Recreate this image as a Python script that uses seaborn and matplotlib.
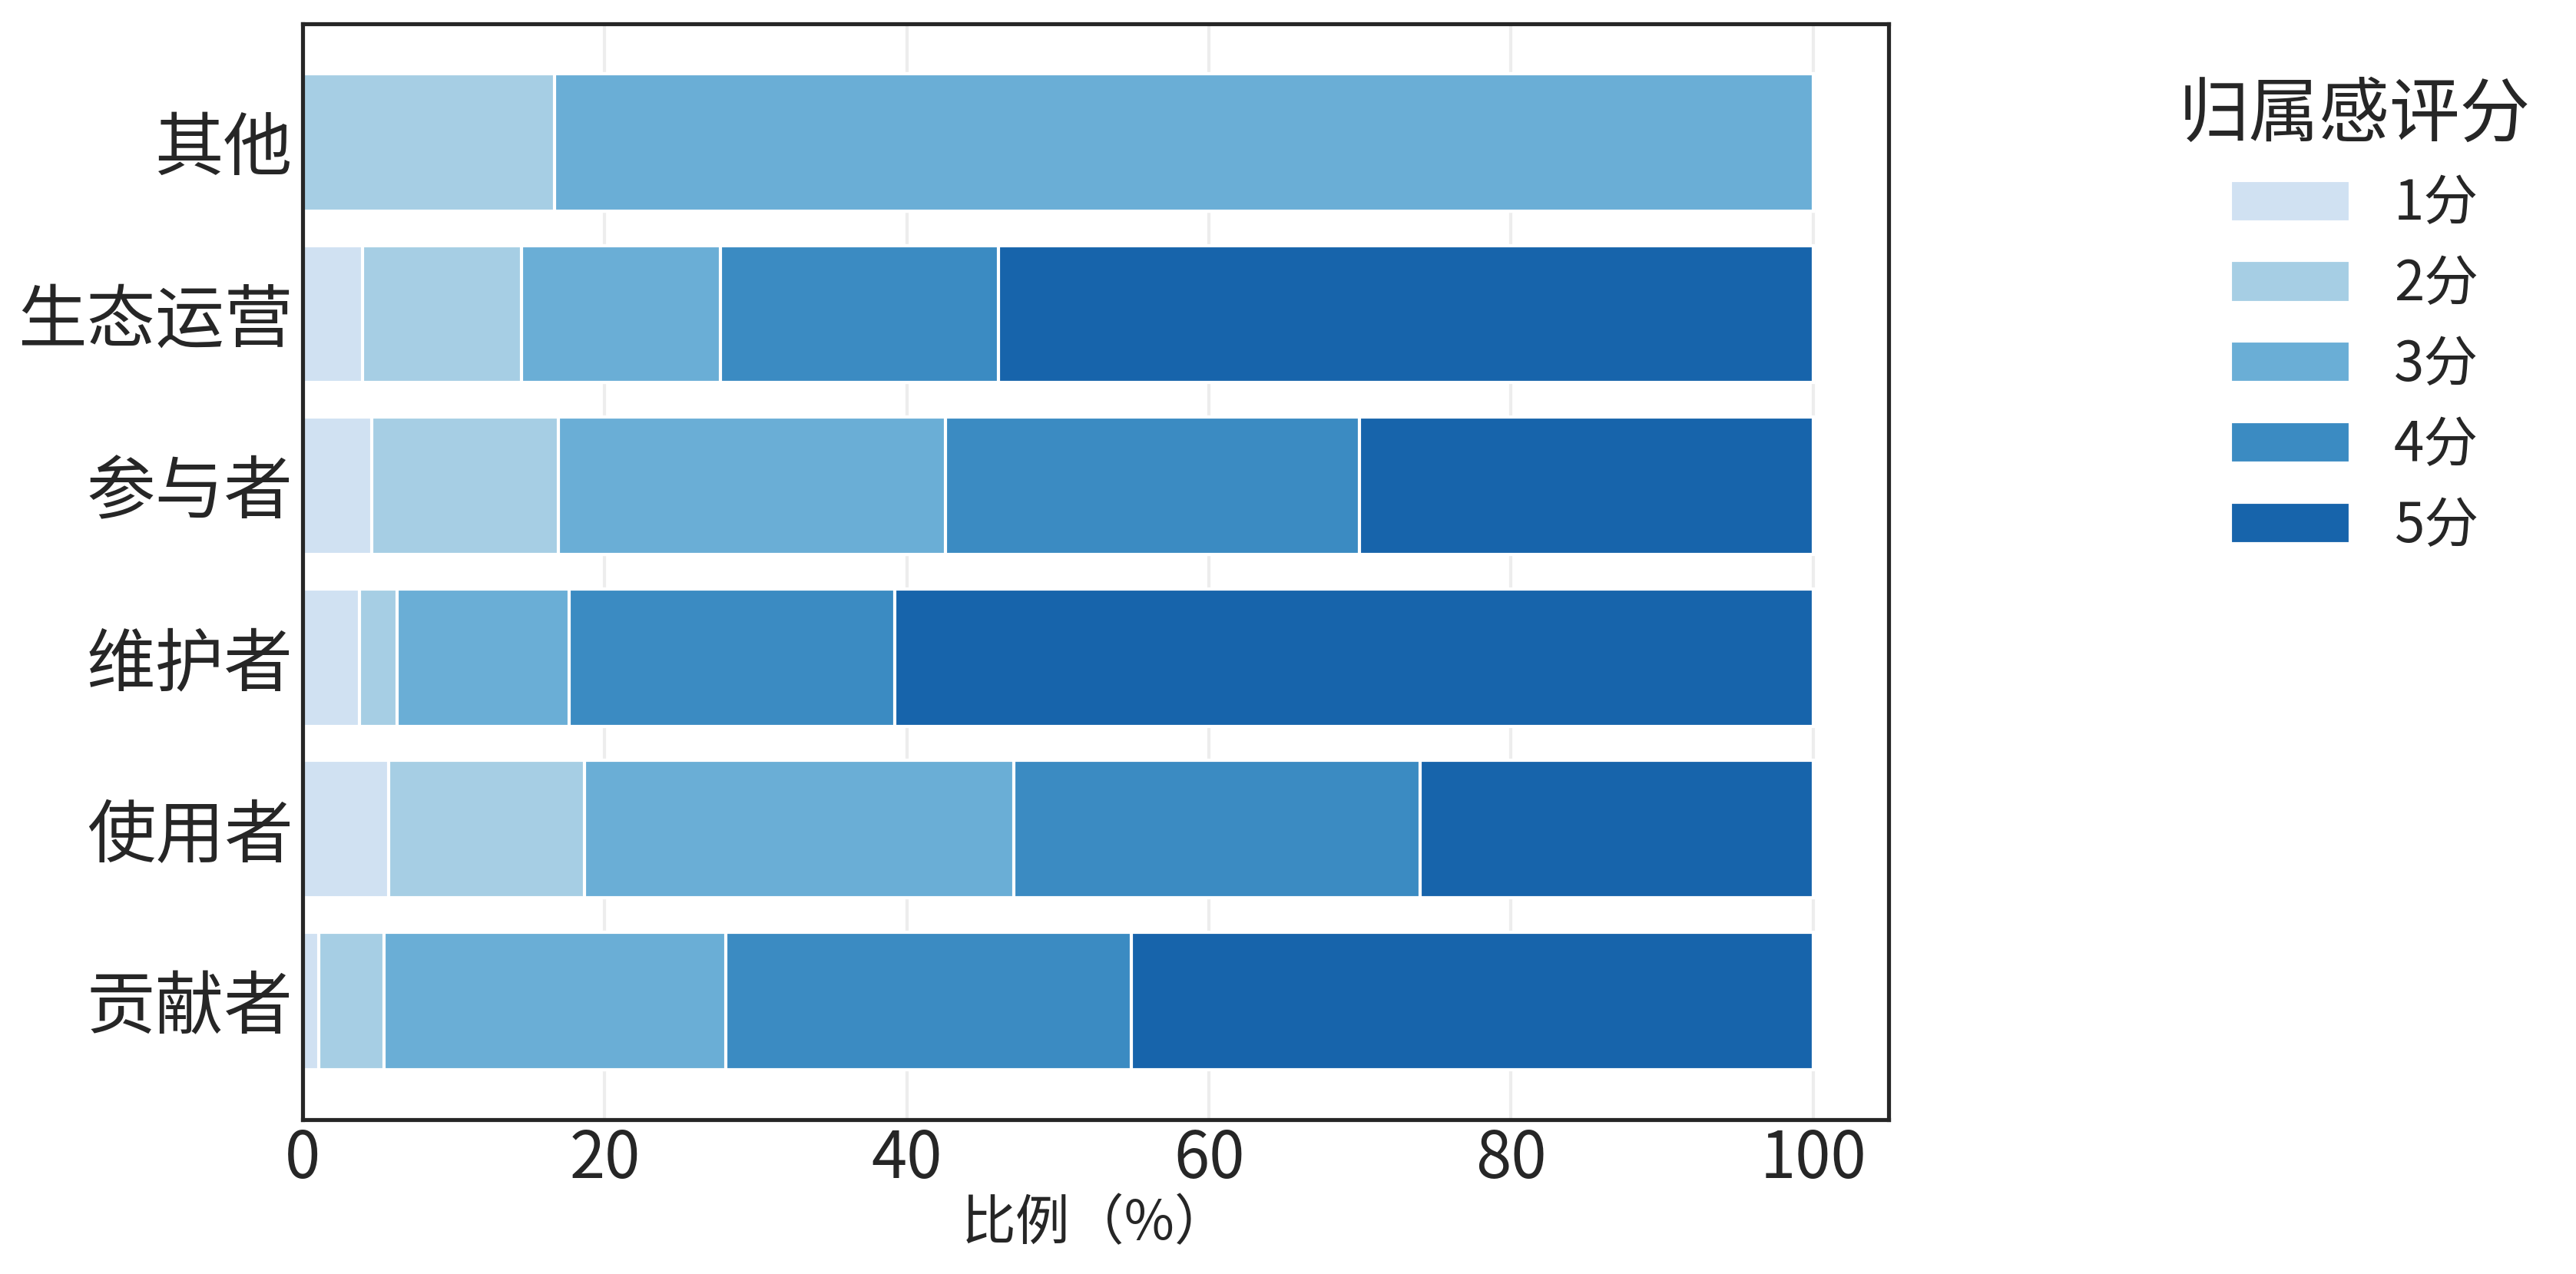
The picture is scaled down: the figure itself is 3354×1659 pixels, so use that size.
import matplotlib
matplotlib.use("Agg")
import matplotlib.pyplot as plt
import seaborn as sns
import pandas as pd
import numpy as np

# 角色 (从上到下)
roles = ['其他', '生态运营', '参与者', '维护者', '使用者', '贡献者']
scores = ['1分', '2分', '3分', '4分', '5分']

# 各评分占比 (%)
pct_1 = [0.00, 3.95, 4.56, 3.78, 5.70, 1.06]
pct_2 = [16.67, 10.53, 12.39, 2.48, 12.98, 4.32]
pct_3 = [83.33, 13.16, 25.60, 11.40, 28.41, 22.62]
pct_4 = [0.00, 18.42, 27.40, 21.53, 26.88, 26.88]
pct_5 = [0.00, 53.95, 30.05, 60.81, 26.03, 45.12]


def plot_belonging():
    sns.set_theme(style="white")
    plt.rcParams['font.family'] = ['Noto Sans CJK SC', 'DejaVu Sans']
    plt.rcParams['axes.unicode_minus'] = False

    # 累计值, 用叠加的条形实现堆叠效果
    pct = np.array([pct_1, pct_2, pct_3, pct_4, pct_5])
    cum = np.cumsum(pct, axis=0)
    rows = []
    for k, s in enumerate(scores):
        for i, r in enumerate(roles):
            rows.append({'角色': r, '评分': s, '累计': cum[k, i]})
    df = pd.DataFrame(rows)

    colors = plt.cm.Blues(np.linspace(0.2, 0.8, 5))
    palette = {s: colors[k] for k, s in enumerate(scores)}

    fig = plt.figure(figsize=(11.18, 5.53), dpi=300)
    ax = fig.add_axes([0.1175, 0.1212, 0.7332 - 0.1175, 0.9813 - 0.1212])

    sns.barplot(
        data=df, x='累计', y='角色', hue='评分',
        order=roles, hue_order=scores[::-1],
        palette=palette, saturation=1, dodge=False, errorbar=None,
        width=0.8, edgecolor='white', linewidth=1, ax=ax
    )

    ax.set_ylim(5.69, -0.69)
    ax.set_xlim(0, 105)
    ax.set_xticks([0, 20, 40, 60, 80, 100])
    ax.xaxis.grid(True, color='#cccccc', alpha=0.35, linewidth=1)
    ax.set_axisbelow(True)
    for sp in ax.spines.values():
        sp.set_color('#262626')
        sp.set_linewidth(1.25)

    ax.set_ylabel('')
    ax.set_xlabel('比例（%）', fontsize=17, labelpad=1)
    ax.tick_params(axis='y', labelsize=21.5, length=0, pad=3)
    ax.tick_params(axis='x', labelsize=20, length=0, pad=2)

    handles, labels = ax.get_legend_handles_labels()
    order = [labels.index(s) for s in scores]
    ax.legend([handles[i] for i in order], [labels[i] for i in order],
              title='归属感评分', loc='upper left', bbox_to_anchor=(1.152, 0.994),
              frameon=False, fontsize=17, title_fontsize=22,
              labelspacing=0.45, handlelength=2.2, handleheight=0.8)

    fig.savefig('out.png', dpi=300)


if __name__ == "__main__":
    plot_belonging()
